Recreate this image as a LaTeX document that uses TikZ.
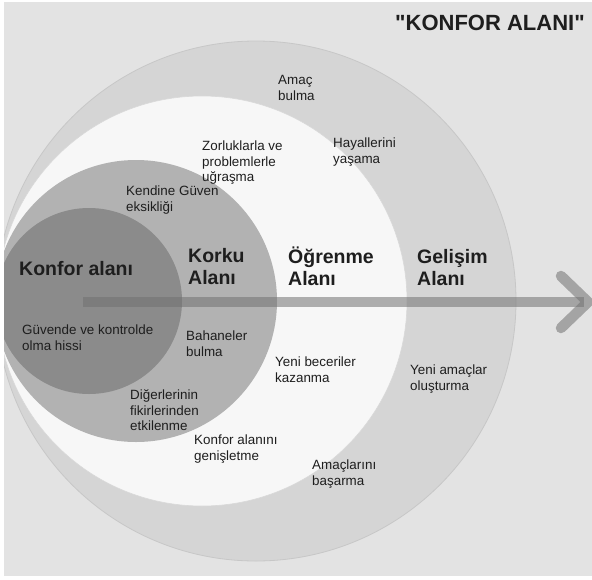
\documentclass[tikz,border=0pt]{standalone}
\usepackage{fontspec}
\setmainfont{Liberation Sans}
\newfontfamily\titlefont{Liberation Sans}[Ligatures=TeXOff]
\definecolor{bgc}{HTML}{E3E3E3}
\definecolor{ringc}{HTML}{D5D5D5}
\definecolor{learnc}{HTML}{F7F7F7}
\definecolor{fearc}{HTML}{B2B2B2}
\definecolor{comfc}{HTML}{8B8B8B}
\definecolor{arrc}{HTML}{717171}
\definecolor{txtc}{HTML}{1E1E1E}
\begin{document}
\begin{tikzpicture}[x=1pt,y=-1pt,
  small/.style={anchor=base west,inner sep=0pt,align=left,text=txtc,font=\fontsize{13.4}{15.5}\selectfont},
  big/.style={anchor=base west,inner sep=0pt,align=left,text=txtc,font=\bfseries\fontsize{19.5}{22}\selectfont},
  arrline/.style={draw=arrc,draw opacity=0.55,line width=10.5pt}]
\useasboundingbox (0,0) rectangle (592,579);
\fill[white] (0,0) rectangle (592,579);
\fill[bgc] (4,2) rectangle (592,576);
\begin{scope}
\clip (4,2) rectangle (592,576);
\fill[ringc,draw=black!22,line width=0.8pt] (256,301) circle[radius=260];
\fill[learnc,draw=black!15,line width=0.6pt] (202,301) circle[radius=205];
\fill[fearc] (136,301) circle[radius=141];
\fill[comfc] (89,301) circle[radius=93];
\coordinate (as) at (83,302);
\coordinate (ae) at (584,302);
\coordinate (h1) at (561,276);
\coordinate (h2) at (561,328);
\draw[arrline,line cap=butt] (as) -- (ae);
\draw[arrline,line cap=round,line join=round] (h1) -- (588,302) -- (h2);
\end{scope}
\node[anchor=base west,inner sep=0pt,text=txtc,font=\titlefont\bfseries\fontsize{22}{26}\selectfont] (title) at (395,30) {"KONFOR ALANI"};
\node[small] (amac) at (278,100) {Amaç\\bulma};
\node[small] (hayal) at (333,163) {Hayallerini\\yaşama};
\node[small] (zor) at (202,181.5) {Zorluklarla ve\\problemlerle\\uğraşma};
\node[small] (kendine) at (126,211) {Kendine Güven\\eksikliği};
\node[big] (konfor) at (19,275) {Konfor alanı};
\node[big] (korku) at (188,284) {Korku\\Alanı};
\node[big] (ogrenme) at (288,285) {Öğrenme\\Alanı};
\node[big] (gelisim) at (417,285) {Gelişim\\Alanı};
\node[small] (guven) at (22,350) {Güvende ve kontrolde\\olma hissi};
\node[small] (bahane) at (186,356) {Bahaneler\\bulma};
\node[small] (beceri) at (275,382) {Yeni beceriler\\kazanma};
\node[small] (yenia) at (410,390) {Yeni amaçlar\\oluşturma};
\node[small] (diger) at (130,430.5) {Diğerlerinin\\fikirlerinden\\etkilenme};
\node[small] (genis) at (194,460) {Konfor alanını\\genişletme};
\node[small] (basar) at (312,485) {Amaçlarını\\başarma};
\end{tikzpicture}
\end{document}
